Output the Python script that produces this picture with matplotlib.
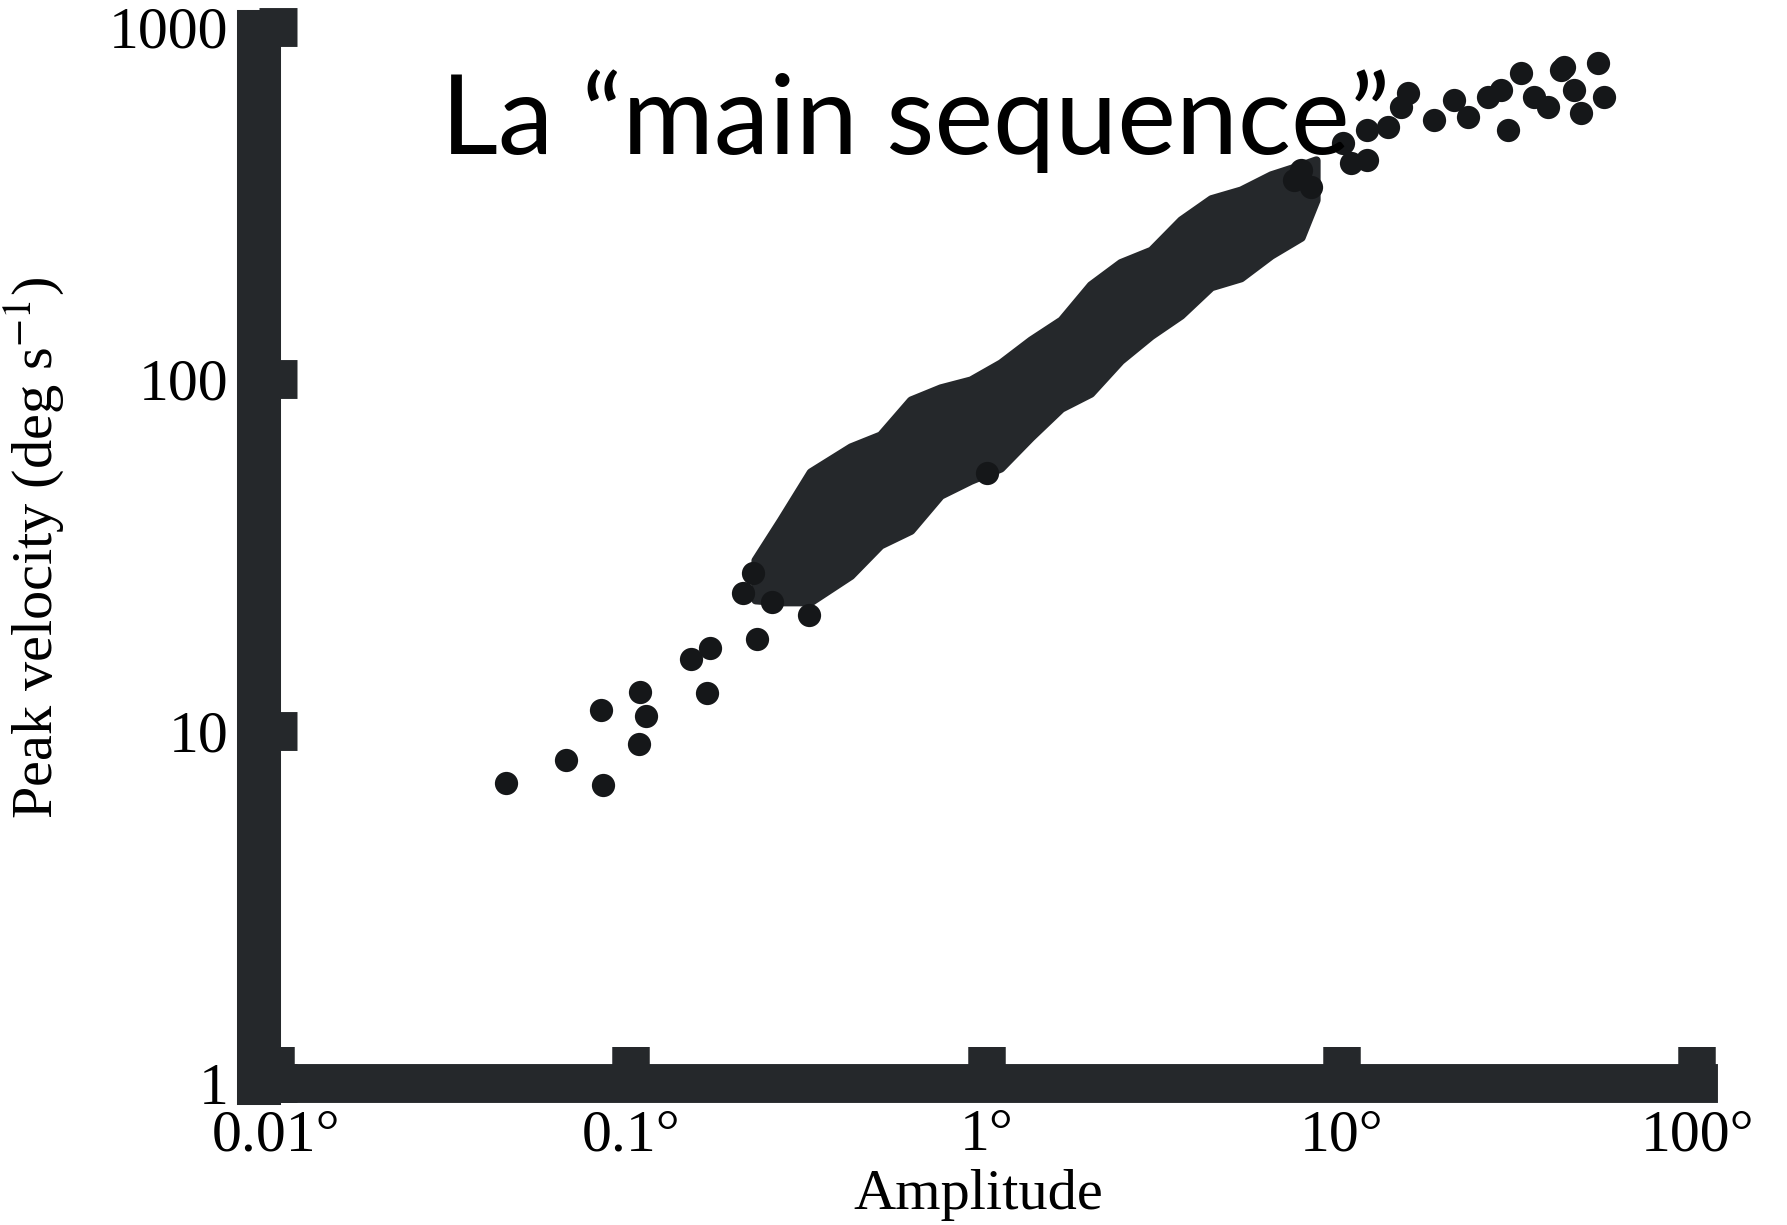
import matplotlib.pyplot as plt

plt.rcParams['mathtext.fontset'] = 'stix'

# isolated saccades (amplitude in deg, peak velocity in deg/s)
small_amp = [0.0445, 0.0656, 0.0834, 0.082, 0.105, 0.106, 0.110, 0.1475,
             0.167, 0.163, 0.226, 0.317, 0.206, 0.22, 0.249, 1.0]
small_vel = [7.1, 8.27, 7.03, 11.5, 9.19, 12.9, 11.0, 16.0,
             17.2, 12.8, 18.3, 21.4, 24.7, 28.1, 23.2, 54.1]

large_amp = [15.3, 14.7, 13.5, 11.8, 10.1, 10.6, 11.8, 7.67, 7.33, 8.18,
             18.2, 20.7, 22.6, 25.8, 28.0, 29.4, 31.9, 34.7, 38.0, 41.4,
             45.1, 52.6, 54.7, 47.1, 42.2]
large_vel = [649, 593, 520, 510, 468, 411, 419, 392, 368, 351,
             544, 620, 555, 632, 662, 510, 740, 632, 593, 755,
             662, 790, 632, 570, 769]

# dense cloud of saccades: envelope
band_amp = [0.223, 0.263, 0.319, 0.414, 0.502, 0.611, 0.741, 0.901, 1.094, 1.33,
            1.62, 1.96, 2.38, 2.90, 3.52, 4.28, 5.19, 6.31, 7.67, 8.45]
band_hi = [30.6, 39.7, 54.4, 64.1, 69.3, 87.1, 94.3, 99.3, 111, 129,
           147, 185, 214, 232, 283, 325, 344, 380, 405, 419]
band_lo = [23.6, 23.3, 23.3, 27.7, 33.8, 37.2, 46.8, 51.6, 55.9, 68.4,
           82.7, 91.2, 113, 133, 152, 183, 194, 225, 253, 323]

x_ticks = [0.01, 0.1, 1, 10, 100]
x_labels = ['0.01°', '0.1°', '1°', '10°', '100°']
y_ticks = [1, 10, 100, 1000]
y_labels = ['1', '10', '100', '1000']

ink = '#25282b'
dot = '#151719'
serif = ['Liberation Serif', 'DejaVu Serif']

fig = plt.figure(figsize=(17.87, 12.25), dpi=100)
ax = fig.add_axes([0.1449, 0.1159, 0.8053, 0.8743])

ax.fill_between(band_amp, band_lo, band_hi, color=ink, lw=6, edgecolor=ink, zorder=2)
ax.scatter(small_amp, small_vel, s=280, color=dot, lw=0, zorder=3)
ax.scatter(large_amp, large_vel, s=280, color=dot, lw=0, zorder=3)

ax.set_xscale('log')
ax.set_yscale('log')
ax.set_xlim(0.00895, 100.5)
ax.set_ylim(1, 1103)

for side in ['top', 'right']:
    ax.spines[side].set_visible(False)
ax.spines['left'].set_linewidth(31.7)
ax.spines['left'].set_bounds(1, 968)
ax.spines['bottom'].set_linewidth(28)
ax.spines['left'].set_color(ink)
ax.spines['bottom'].set_color(ink)

ax.minorticks_off()
ax.set_xticks(x_ticks)
ax.set_xticklabels(x_labels, fontfamily=serif, fontsize=43)
ax.set_yticks(y_ticks)
ax.set_yticklabels(y_labels, fontfamily=serif, fontsize=43)
ax.tick_params(axis='x', direction='in', length=26, width=27, color=ink, pad=19)
ax.tick_params(axis='y', direction='in', length=27, width=28, color=ink, pad=22)

ax.set_xlabel('Amplitude', fontfamily=serif, fontsize=42, labelpad=4)
ax.set_ylabel(r'Peak velocity (deg s$^{-1}$)', fontfamily=serif, fontsize=42, labelpad=30)

fig.text(0.247, 0.874, 'La \u201cmain sequence\u201d', fontfamily='Lato',
         fontsize=80, va='baseline', ha='left', color='black')

fig.savefig('out.png', dpi=100, facecolor='white')
plt.close(fig)
